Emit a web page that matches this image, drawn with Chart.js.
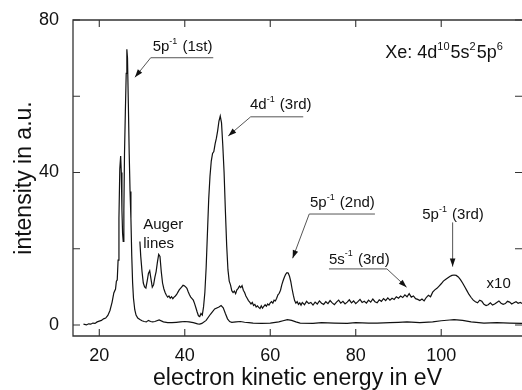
<!DOCTYPE html>
<html><head><meta charset="utf-8">
<script src="https://cdn.jsdelivr.net/npm/chart.js@4.4.1/dist/chart.umd.min.js"></script>
<style>html,body{margin:0;padding:0;background:#fff;overflow:hidden}canvas{display:block}</style>
</head><body>
<canvas id="c" width="522" height="390"></canvas>
<script>
// ---- data ----
const lowerEnergy = [16.3,17,17.5,18,18.5,19,19.5,20,20.5,21,
  21.5,22,22.5,23,23.4,23.8,24.0,24.2,24.4,24.6,
  24.8,25.0,25.15,25.3,25.45,25.6,25.75,25.9,26.1,26.3,
  26.45,26.6,26.8,27.0,27.2,27.4,27.6,27.8,28.0,28.3,
  28.6,29.0,29.5,30,30.5,31,31.5,32,32.5,33,
  34,35,36,37,38,39,40,41,42,43,
  43.5,44,45,46,47,48,48.5,49,49.5,50,
  50.5,51,52,53,54,55,56,58,60,62,
  63,64,65,66,67,70,72,75,78,80,
  83,85,88,90,92,95,98,100,102,103,
  105,107,110,113,116,119];
const lowerIntensity = [0.2,0.0,0.3,0.2,0.5,0.4,0.8,1.0,1.2,1.6,
  1.8,2.5,3.8,6.0,8.4,9.4,11.5,11.8,17,28,
  41,44.3,40,30,24,21.9,30,45,56,66,
  72.3,70,58,45,35,28,18,11,7,4,
  2.6,1.8,1.4,1.1,0.9,0.8,1.2,0.9,0.8,0.9,
  1.3,0.8,0.6,0.6,0.7,0.8,0.9,0.8,0.6,0.3,
  0.2,0.4,1.2,2.8,4.2,4.7,5.1,4.5,3.0,1.6,
  0.9,0.7,0.8,0.9,0.7,0.6,0.5,0.4,0.5,0.8,
  1.1,1.4,1.2,0.8,0.5,0.4,0.6,0.5,0.4,0.6,
  0.5,0.5,0.6,0.7,0.8,0.6,0.8,1.1,1.3,1.4,
  1.2,0.8,0.5,0.6,0.5,0.4];
const upperEnergy = [29.5,29.7,30.0,30.3,30.6,30.9,31.2,31.5,31.8,32.1,
  32.4,32.7,33.0,33.3,33.6,33.9,34.2,34.5,34.8,35.1,
  35.4,35.7,36.0,36.3,36.6,36.9,37.2,37.5,37.8,38.1,
  38.4,38.7,39.0,39.3,39.6,39.9,40.2,40.5,40.8,41.1,
  41.4,41.7,42.0,42.3,42.6,42.9,43.2,43.5,43.8,44.1,
  44.4,44.7,45.0,45.3,45.6,45.9,46.2,46.5,46.8,47.1,
  47.4,47.7,48.0,48.3,48.6,48.9,49.2,49.5,49.8,50.1,
  50.4,50.7,51.0,51.3,51.6,51.9,52.2,52.5,52.8,53.1,
  53.4,53.7,54.0,54.3,54.6,54.9,55.2,55.5,55.8,56.1,
  56.4,56.7,57.0,57.3,57.6,57.9,58.2,58.5,58.8,59.1,
  59.4,59.7,60.0,60.3,60.6,60.9,61.2,61.5,61.8,62.1,
  62.4,62.7,63.0,63.3,63.6,63.9,64.2,64.5,64.8,65.1,
  65.4,65.7,66.0,66.3,66.6,66.9,67.2,67.5,68.0,68.5,
  69.0,69.5,70.0,70.5,71.0,71.5,72.0,72.5,73.0,73.5,
  74.0,74.5,75.0,75.5,76.0,76.5,77.0,77.5,78.0,78.5,
  79.0,79.5,80.0,80.5,81.0,81.5,82.0,82.5,83.0,83.5,
  84.0,84.5,85.0,85.5,86.0,86.5,87.0,87.5,88.0,88.5,
  89.0,89.5,90.0,90.5,91.0,91.5,92.0,92.5,93.0,93.5,
  94.0,94.5,95.0,95.5,96.0,96.5,97.0,97.5,98.0,98.5,
  99.0,99.5,100.0,100.5,101.0,101.5,102.0,102.5,103.0,103.5,
  104.0,104.5,105.0,105.5,106.0,106.5,107.0,107.5,108.0,108.5,
  109.0,109.5,110.0,110.5,111.0,111.5,112.0,112.5,113.0,113.5,
  114.0,114.5,115.0,115.5,116.0,116.5,117.0,117.5,118.0,118.5,
  119.0];
const upperIntensity = [21.9,18,14,11,10,9.7,11.5,13.5,14.2,12,
  9.9,10.5,12.5,14,16.5,18.5,18,14,11,9.5,
  8.5,7.8,7.3,7.6,7.0,7.4,6.9,7.3,7.6,8.0,
  8.6,9.2,9.6,10.0,10.4,10.3,10.0,9.6,8.7,7.9,
  7.3,6.9,6.5,5.6,4.5,3.4,2.4,2.2,3.0,2.6,
  4.8,8.5,15,24,33,39,43,45,45.5,47.5,
  49,51,53.5,54.8,53,47,40,30,21,14.5,
  11.5,10.5,9.0,8.5,8.9,8.2,9.2,9.6,10.2,9.8,
  10.3,9.1,8.5,7.6,7.0,6.4,6.0,5.5,5.9,5.1,
  5.4,4.7,5.0,4.6,4.3,5.0,4.4,4.9,5.3,4.9,
  5.5,5.2,5.8,6.1,5.7,6.5,6.3,7.0,7.9,8.3,
  9.1,10.5,11.6,12.5,13.3,13.7,13.6,12.8,11.4,9.5,
  7.8,6.4,5.7,6.1,5.4,5.8,5.2,5.9,5.3,6.2,
  5.6,5.9,5.2,6.0,5.5,6.3,5.7,5.4,6.1,5.6,
  6.4,5.8,5.3,6.0,6.5,5.7,6.2,5.5,6.0,6.6,
  5.8,6.3,5.6,6.1,6.7,5.9,6.2,5.7,6.5,6.0,
  6.8,6.1,5.8,6.6,6.2,6.9,6.4,7.1,6.5,7.0,
  6.7,7.4,7.0,7.6,7.2,7.9,7.4,8.2,7.3,7.6,
  6.9,6.7,6.4,6.8,6.3,7.2,7.8,7.4,8.6,9.2,
  9.6,10.2,10.8,11.5,11.9,12.3,12.7,13.0,13.1,13.0,
  12.6,11.9,11.0,10.0,9.0,8.0,7.2,6.5,6.1,5.8,
  6.5,6.2,5.4,5.1,5.3,5.8,5.2,5.5,5.9,6.3,
  5.7,5.4,5.6,6.2,6.0,5.5,5.8,6.1,5.7,5.9,
  5.6];
const xTickValues = [20, 40, 60, 80, 100];
const yTickValues = [0, 20, 40, 60, 80];
const yLabelValues = [0, 40, 80];
const xTitle = 'electron kinetic energy in eV';
const yTitle = 'intensity in a.u.';

// ---- annotations (anchored in data units) ----
const notes = [
  {parts:[{t:'5p'},{t:'-1',sup:true},{t:' (1st)'}], x:32.49, y:73.0, path:[[46.67,70.1],[32.03,70.1],[28.35,64.97]]},
  {parts:[{t:'4d'},{t:'-1',sup:true},{t:' (3rd)'}], x:55.25, y:57.7, path:[[67.72,54.6],[55.42,54.6],[50.18,49.6]]},
  {parts:[{t:'5p'},{t:'-1',sup:true},{t:' (2nd)'}], x:69.29, y:31.9, path:[[84.49,29.1],[69.12,29.1],[65.24,17.5]]},
  {parts:[{t:'5s'},{t:'-1',sup:true},{t:' (3rd)'}], x:73.74, y:17.2, path:[[73.74,14.7],[87.3,14.7],[91.9,9.9]]},
  {parts:[{t:'5p'},{t:'-1',sup:true},{t:' (3rd)'}], x:95.56, y:28.9, path:[[102.67,26.9],[102.67,15.3]]},
  {parts:[{t:'x10'}], x:110.62, y:10.7},
  {parts:[{t:'Auger'}], x:30.29, y:26.2},
  {parts:[{t:'lines'}], x:30.29, y:21.2},
  {parts:[{t:'Xe: 4d'},{t:'10',sup:true},{t:'5s'},{t:'2',sup:true},{t:'5p'},{t:'6',sup:true}], x:86.9, y:71.3, size:18}
];

const FAMILY = '"Liberation Sans", Arial, Helvetica, sans-serif';
const INK = '#111';

function drawRich(ctx, x, y, parts, size) {
  let cx = x;
  ctx.textAlign = 'left';
  ctx.textBaseline = 'middle';
  parts.forEach(p => {
    const s = p.sup ? Math.round(size * 0.6) : size;
    ctx.font = s + 'px ' + FAMILY;
    const yy = p.sup ? y - size * 0.36 : y;
    ctx.fillText(p.t, cx, yy);
    cx += ctx.measureText(p.t).width + (p.sup ? 1 : 0);
  });
}

const notesPlugin = {
  id: 'notes',
  afterDraw(chart) {
    const {ctx, scales: {x, y}} = chart;
    ctx.save();
    ctx.fillStyle = INK;
    notes.forEach(n => {
      drawRich(ctx, x.getPixelForValue(n.x), y.getPixelForValue(n.y), n.parts, n.size || 15);
      if (n.path) {
        const pts = n.path.map(p => [x.getPixelForValue(p[0]), y.getPixelForValue(p[1])]);
        ctx.strokeStyle = '#555';
        ctx.lineWidth = 1;
        ctx.beginPath();
        ctx.moveTo(pts[0][0], pts[0][1]);
        for (let i = 1; i < pts.length; i++) ctx.lineTo(pts[i][0], pts[i][1]);
        ctx.stroke();
        const [tx, ty] = pts[pts.length - 1];
        const [fx, fy] = pts[pts.length - 2];
        const ang = Math.atan2(ty - fy, tx - fx);
        const L = 8, W = 2.8;
        ctx.fillStyle = '#111';
        ctx.beginPath();
        ctx.moveTo(tx, ty);
        ctx.lineTo(tx - L * Math.cos(ang) + W * Math.sin(ang), ty - L * Math.sin(ang) - W * Math.cos(ang));
        ctx.lineTo(tx - L * Math.cos(ang) - W * Math.sin(ang), ty - L * Math.sin(ang) + W * Math.cos(ang));
        ctx.closePath();
        ctx.fill();
        ctx.fillStyle = INK;
      }
    });
    ctx.restore();
  }
};

const framePlugin = {
  id: 'frame',
  afterDraw(chart) {
    const {ctx, chartArea: a, scales: {x, y}} = chart;
    ctx.save();
    ctx.strokeStyle = '#333';
    ctx.lineWidth = 1.3;
    ctx.beginPath();
    ctx.moveTo(a.right + 2, a.top);
    ctx.lineTo(a.left, a.top);
    ctx.lineTo(a.left, a.bottom);
    ctx.lineTo(a.right + 2, a.bottom);
    ctx.stroke();
    const L = 7;
    ctx.lineWidth = 1.1;
    ctx.beginPath();
    xTickValues.forEach(v => {
      const px = x.getPixelForValue(v);
      ctx.moveTo(px, a.bottom); ctx.lineTo(px, a.bottom - L);
      ctx.moveTo(px, a.top); ctx.lineTo(px, a.top + L);
    });
    yTickValues.forEach(v => {
      const py = y.getPixelForValue(v);
      ctx.moveTo(a.left, py); ctx.lineTo(a.left + L, py);
      ctx.moveTo(a.right, py); ctx.lineTo(a.right - L, py);
    });
    ctx.stroke();
    ctx.restore();
  }
};

const toPts = (xs, ys) => xs.map((e, i) => ({x: e, y: ys[i]}));

new Chart(document.getElementById('c'), {
  type: 'line',
  data: {
    datasets: [
      {data: toPts(lowerEnergy, lowerIntensity), borderColor: INK, borderWidth: 1.2, pointRadius: 0, tension: 0, fill: false},
      {data: toPts(upperEnergy, upperIntensity), borderColor: INK, borderWidth: 1.2, pointRadius: 0, tension: 0, fill: false}
    ]
  },
  options: {
    responsive: false,
    animation: false,
    devicePixelRatio: 1,
    layout: {padding: {top: 20, right: 0, left: 0, bottom: 0}},
    plugins: {legend: {display: false}, tooltip: {enabled: false}},
    scales: {
      x: {
        type: 'linear', min: 13.85, max: 118.9,
        grid: {display: false}, border: {display: false},
        afterBuildTicks: s => { s.ticks = xTickValues.map(v => ({value: v})); },
        afterFit: s => { s.height = 54; },
        ticks: {font: {family: FAMILY, size: 18}, color: INK, padding: 1, maxRotation: 0, autoSkip: false},
        title: {display: true, text: xTitle, color: INK, font: {family: FAMILY, size: 23, lineHeight: 0.9}, padding: {top: 0, bottom: 1}}
      },
      y: {
        type: 'linear', min: -2.9, max: 80,
        grid: {display: false}, border: {display: false},
        afterBuildTicks: s => { s.ticks = yTickValues.map(v => ({value: v})); },
        afterFit: s => { s.width = 73; },
        ticks: {font: {family: FAMILY, size: 18}, color: INK, padding: 6, autoSkip: false,
          callback: v => yLabelValues.includes(v) ? String(v) : ''},
        title: {display: true, text: yTitle, color: INK, font: {family: FAMILY, size: 23, lineHeight: 0.9}, padding: {top: 14.6, bottom: 0}}
      }
    }
  },
  plugins: [framePlugin, notesPlugin]
});
</script>
</body></html>
